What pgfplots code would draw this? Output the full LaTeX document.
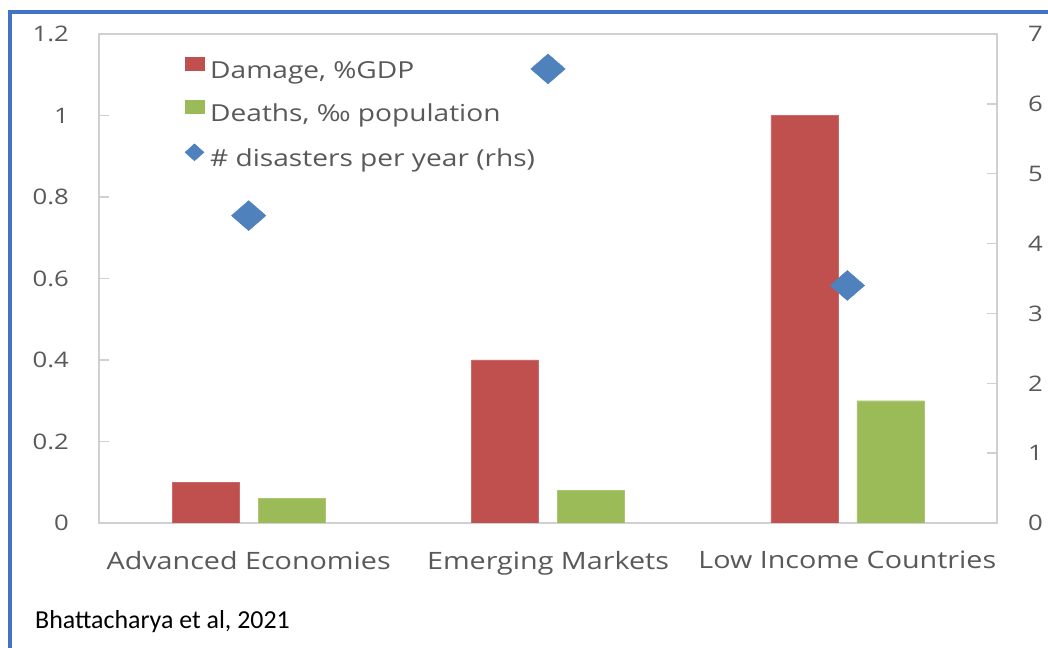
\documentclass[border=0pt]{standalone}
\usepackage{fontspec}
\setmainfont{Open Sans}[FakeStretch=1.2]
\newfontfamily\calibri{Carlito}
\usepackage{pgfplots}
\pgfplotsset{compat=1.18}
\definecolor{dmg}{HTML}{C0504D}
\definecolor{dth}{HTML}{9BBB59}
\definecolor{dis}{HTML}{4F81BD}
\definecolor{axgray}{HTML}{D0D0D0}
\definecolor{txt}{HTML}{595959}
\definecolor{frameblue}{HTML}{4472C4}
\begin{document}
\begin{tikzpicture}
\useasboundingbox (0,0) rectangle (1048bp,648bp);
\fill[white] (0,0) rectangle (1048bp,648bp);
\begin{axis}[
  at={(99bp,125bp)}, anchor=south west, scale only axis,
  width=898bp, height=489bp,
  ymin=0, ymax=1.2, ytick={0,0.2,0.4,0.6,0.8,1,1.2},
  xmin=-0.5, xmax=2.5, xtick={0,1,2},
  xticklabels={Advanced Economies, Emerging Markets, Low Income Countries},
  ybar=19bp, bar width=67bp,
  axis line style={axgray, line width=1.3bp},
  major tick style={axgray, line width=1.3bp},
  major tick length=10bp, tick align=inside,
  ytick pos=left, xtick style={draw=none},
  /pgf/number format/assume math mode=true,
  yticklabel style={inner sep=0pt, xshift=-30bp, text=txt, font=\fontsize{21.5}{26}\selectfont},
  xticklabel style={inner sep=0pt, yshift=-28bp, text=txt, font=\fontsize{24}{28}\selectfont},
  legend style={at={(0.092,0.957)}, anchor=north west, draw=none, fill=none,
    font=\fontsize{23.5}{27}\selectfont, text=txt, row sep=17bp, column sep=6bp,
    nodes={inner sep=0pt, text height=17bp, text depth=5bp}},
  legend cell align=left,
]
\addplot[fill=dmg, draw=dmg!85!white,
  legend image code/.code={\fill[dmg] (0bp,2bp) rectangle (19bp,15bp);}]
  coordinates {(0,0.1) (1,0.4) (2,1.0)};
\addlegendentry{Damage, \%GDP}
\addplot[fill=dth, draw=dth!85!white,
  legend image code/.code={\fill[dth] (0bp,2bp) rectangle (19bp,15bp);}]
  coordinates {(0,0.06) (1,0.08) (2,0.3)};
\addlegendentry{Deaths, ‰ population}
\addlegendimage{legend image code/.code={\fill[dis] (0bp,8bp) -- (9.5bp,16.5bp) -- (19bp,8bp) -- (9.5bp,-0.5bp) -- cycle;}}
\addlegendentry{\# disasters per year (rhs)}
\end{axis}
\begin{axis}[
  at={(99bp,125bp)}, anchor=south west, scale only axis,
  width=898bp, height=489bp,
  ymin=0, ymax=7, ytick={0,1,2,3,4,5,6,7},
  xmin=-0.5, xmax=2.5,
  axis x line=none, axis y line*=right,
  axis line style={axgray, line width=1.3bp, -},
  major tick style={axgray, line width=1.3bp},
  major tick length=10bp, tick align=inside,
  /pgf/number format/assume math mode=true,
  yticklabel style={inner sep=0pt, xshift=31bp, text=txt, font=\fontsize{21.5}{26}\selectfont},
]
\addplot[only marks, mark=square*, mark size=10.6bp,
  mark options={fill=dis, draw=dis, xscale=1.15, rotate=45}]
  coordinates {(0,4.4) (1,6.5) (2,3.4)};
\end{axis}
\draw[frameblue, line width=4bp] (10bp,0bp) -- (10bp,636bp) -- (1048bp,636bp);
\node[anchor=base west, inner sep=0pt, font=\calibri\fontsize{26}{30}\selectfont] at (35bp,20bp) {Bhattacharya et al, 2021};
\end{tikzpicture}
\end{document}
